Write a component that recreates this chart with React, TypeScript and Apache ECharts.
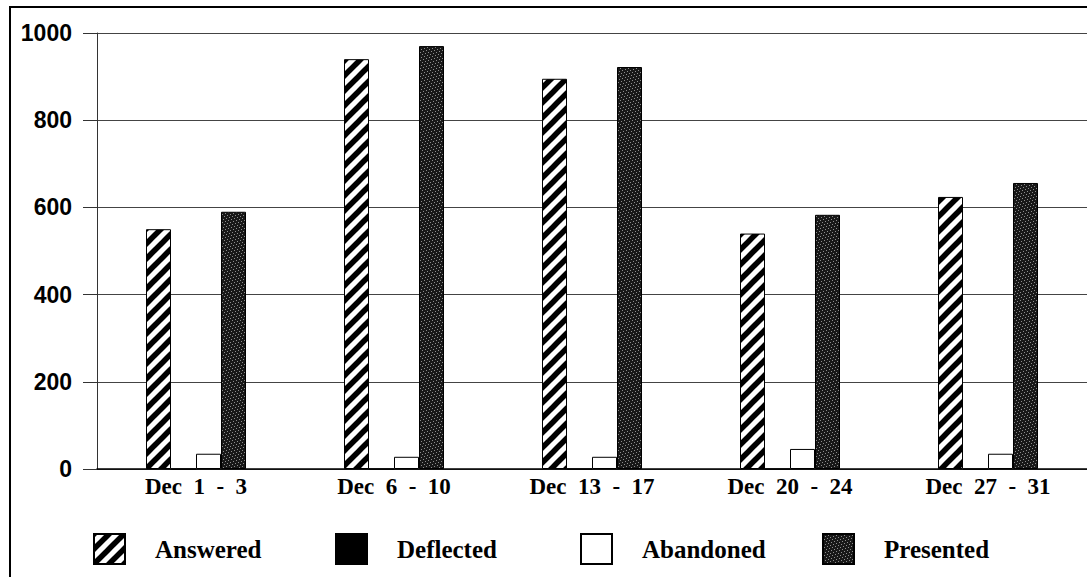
import React, { useEffect, useRef } from "react";
import * as echarts from "echarts";

const categories = ["Dec 1 - 3", "Dec 6 - 10", "Dec 13 - 17", "Dec 20 - 24", "Dec 27 - 31"];
const answered = [550, 940, 895, 540, 624];
const deflected = [0, 0, 0, 0, 0];
const abandoned = [35, 28, 28, 46, 35];
const presented = [590, 970, 922, 583, 656];
const seriesNames = ["Answered", "Deflected", "Abandoned", "Presented"];
const yMin = 0;
const yMax = 1000;
const yStep = 200;

function makeStripes(): HTMLCanvasElement {
  const T = 15;
  const c = document.createElement("canvas");
  c.width = T;
  c.height = T;
  const ctx = c.getContext("2d")!;
  ctx.fillStyle = "#ffffff";
  ctx.fillRect(0, 0, T, T);
  ctx.strokeStyle = "#000000";
  ctx.lineWidth = 5.5;
  for (const off of [-T, 0, T]) {
    ctx.beginPath();
    ctx.moveTo(off - 2, T + 2);
    ctx.lineTo(off + T + 2, -2);
    ctx.stroke();
  }
  return c;
}

const STIPPLE = [
  "10000000",
  "00000100",
  "00100000",
  "00000001",
  "00001000",
  "01000000",
  "00000010",
  "00010000",
];

function makeStipple(): HTMLCanvasElement {
  const n = STIPPLE.length;
  const c = document.createElement("canvas");
  c.width = n;
  c.height = n;
  const ctx = c.getContext("2d")!;
  ctx.fillStyle = "#181818";
  ctx.fillRect(0, 0, n, n);
  ctx.fillStyle = "#8c8c8c";
  STIPPLE.forEach((row, y) => {
    row.split("").forEach((ch, x) => {
      if (ch === "1") ctx.fillRect(x, y, 1, 1);
    });
  });
  return c;
}

const legendLefts = [93, 335, 580, 822];

export default function App() {
  const ref = useRef<HTMLDivElement>(null);
  useEffect(() => {
    if (!ref.current) return;
    const chart = echarts.init(ref.current, null, { renderer: "svg" });
    const stripes = makeStripes();
    const stipple = makeStipple();
    const fills: any[] = [
      { image: stripes, repeat: "repeat" },
      "#000000",
      "#ffffff",
      { image: stipple, repeat: "repeat" },
    ];
    const data = [answered, deflected, abandoned, presented];
    chart.setOption({
      animation: false,
      backgroundColor: "#ffffff",
      grid: { left: 97, top: 33, width: 996, height: 436 },
      legend: seriesNames.map((name, i) => ({
        left: legendLefts[i],
        top: 533,
        padding: 0,
        itemWidth: 31,
        itemHeight: 30,
        icon: "rect",
        data: [name],
        textStyle: {
          fontFamily: "Liberation Serif",
          fontWeight: "bold",
          fontSize: 25,
          color: "#000",
          padding: [0, 0, 0, 25],
        },
      })),
      xAxis: {
        type: "category",
        data: categories,
        axisLine: { lineStyle: { color: "#000", width: 1.5 } },
        axisTick: { show: false },
        axisLabel: {
          margin: 6,
          fontFamily: "Liberation Serif",
          fontWeight: "bold",
          fontSize: 23,
          color: "#000",
          formatter: (v: string) => v.split(" ").join("\u2002"),
        },
      },
      yAxis: {
        type: "value",
        min: yMin,
        max: yMax,
        interval: yStep,
        axisLine: { show: true, lineStyle: { color: "#333", width: 1 } },
        axisTick: { show: true, length: 14, lineStyle: { color: "#333" } },
        axisLabel: {
          margin: 25,
          fontFamily: "Liberation Sans",
          fontWeight: "bold",
          fontSize: 23,
          color: "#000",
          formatter: (v: number) => String(v),
        },
        splitLine: { lineStyle: { color: "#444", width: 1 } },
      },
      graphic: [
        {
          type: "rect",
          shape: { x: 10, y: 7, width: 1300, height: 800 },
          style: { fill: "none", stroke: "#000", lineWidth: 2 },
          silent: true,
        },
      ],
      series: seriesNames.map((name, i) => ({
        name,
        type: "bar",
        data: data[i],
        barWidth: 25,
        barGap: "0%",
        itemStyle: { color: fills[i], borderColor: "#000", borderWidth: 1 },
      })),
    });
    return () => chart.dispose();
  }, []);
  return (
    <div
      ref={ref}
      style={{ position: "fixed", left: 0, top: 0, width: 1087, height: 577, background: "#fff" }}
    />
  );
}
